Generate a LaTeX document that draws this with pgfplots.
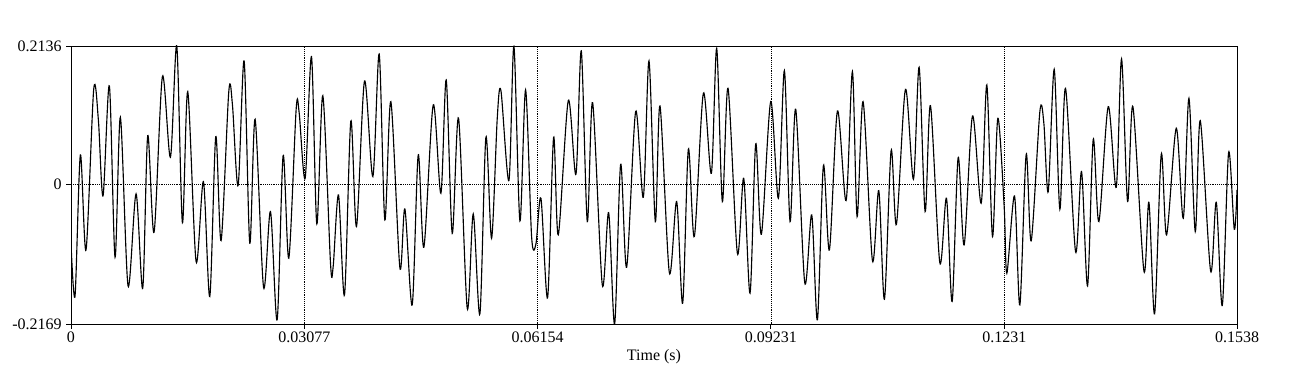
\documentclass[border=0pt]{standalone}
\usepackage{pgfplots}
\pgfplotsset{compat=1.18}
\usepackage{fontspec}
\setmainfont{Liberation Serif}
\pgfplotstableread{
t v
0.000000 -0.0918
0.000532 -0.1734
0.001236 0.0449
0.001983 -0.1022
0.002995 0.1465
0.003611 0.0991
0.004227 -0.0186
0.005063 0.1517
0.005811 -0.1135
0.006514 0.1032
0.007526 -0.1579
0.008582 -0.0155
0.009462 -0.1615
0.010122 0.0748
0.010957 -0.0748
0.012057 0.1662
0.013114 0.0413
0.013950 0.2136
0.014698 -0.0599
0.015401 0.1429
0.016501 -0.1202
0.017469 0.0036
0.018305 -0.1744
0.019097 0.0733
0.019800 -0.0877
0.020812 0.1429
0.021296 0.1223
0.022044 -0.0026
0.022836 0.1904
0.023583 -0.0918
0.024287 0.1001
0.025400 -0.1600
0.026311 -0.0428
0.027191 -0.2105
0.027982 0.0439
0.028730 -0.1151
0.029698 0.1156
0.030094 0.1104
0.030886 0.0088
0.031722 0.1971
0.032425 -0.0619
0.033217 0.1367
0.034229 -0.1228
0.034581 -0.1280
0.035285 -0.0170
0.036077 -0.1718
0.036912 0.0975
0.037660 -0.0660
0.038716 0.1594
0.039816 0.0114
0.040651 0.2012
0.041399 -0.0557
0.042191 0.1275
0.043379 -0.1295
0.044039 -0.0387
0.045006 -0.1873
0.045798 0.0449
0.046546 -0.0980
0.047778 0.1223
0.048790 -0.0144
0.049493 0.1610
0.050285 -0.0764
0.051121 0.1017
0.052265 -0.1925
0.053057 -0.0464
0.053936 -0.2012
0.054728 0.0722
0.055476 -0.0841
0.056224 0.1017
0.056708 0.1445
0.057764 0.0052
0.058423 0.2130
0.059215 -0.0573
0.059963 0.1455
0.060755 -0.0815
0.061327 -0.0929
0.061987 -0.0222
0.062866 -0.1760
0.063658 0.0722
0.064274 -0.0789
0.065594 0.1290
0.066605 0.0150
0.067309 0.2059
0.068101 -0.0583
0.068805 0.1259
0.070081 -0.1563
0.070916 -0.0444
0.071708 -0.2169
0.072500 0.0304
0.073292 -0.1290
0.074480 0.1120
0.075491 -0.0206
0.076239 0.1904
0.077075 -0.0583
0.077691 0.1207
0.078923 -0.1373
0.079890 -0.0273
0.080682 -0.1847
0.081430 0.0537
0.082222 -0.0815
0.083410 0.1404
0.084465 0.0165
0.085169 0.2100
0.085917 -0.0273
0.086665 0.1481
0.087897 -0.1073
0.088732 0.0088
0.089568 -0.1692
0.090316 0.0619
0.091064 -0.0779
0.092296 0.1275
0.093307 -0.0222
0.094099 0.1754
0.094847 -0.0583
0.095595 0.1156
0.096782 -0.1527
0.097706 -0.0480
0.098454 -0.2105
0.099246 0.0284
0.100038 -0.1022
0.101094 0.1130
0.102237 -0.0258
0.103073 0.1739
0.103689 -0.0506
0.104481 0.1275
0.105712 -0.1187
0.106548 -0.0103
0.107296 -0.1785
0.108176 0.0516
0.108880 -0.0624
0.110067 0.1465
0.111123 0.0072
0.111871 0.1806
0.112663 -0.0428
0.113367 0.1213
0.114598 -0.1218
0.115478 -0.0222
0.116226 -0.1821
0.117018 0.0408
0.117810 -0.0944
0.118909 0.1053
0.120053 -0.0299
0.120801 0.1533
0.121549 -0.0815
0.122252 0.1017
0.123088 -0.0351
0.123440 -0.1383
0.124452 -0.0186
0.125156 -0.1873
0.125992 0.0459
0.126652 -0.0882
0.127795 0.1120
0.128323 0.0939
0.128895 -0.0119
0.129687 0.1775
0.130435 -0.0392
0.131182 0.1481
0.132502 -0.1047
0.133294 0.0191
0.134086 -0.1579
0.134834 0.0691
0.135581 -0.0583
0.136813 0.1197
0.137869 -0.0052
0.138573 0.1935
0.139365 -0.0273
0.140068 0.1197
0.141520 -0.1347
0.142180 -0.0284
0.142928 -0.2012
0.143808 0.0459
0.144511 -0.0789
0.145787 0.0862
0.146711 -0.0531
0.147459 0.1326
0.148295 -0.0738
0.148954 0.0980
0.150318 -0.1347
0.151066 -0.0284
0.151858 -0.1883
0.152693 0.0485
0.153441 -0.0702
0.153800 -0.0093
}\wave
\begin{document}
\begin{tikzpicture}
\begin{axis}[
  name=ax,
  scale only axis,
  width=874.5pt, height=208.5pt,
  xmin=0, xmax=0.1538, ymin=-0.2169, ymax=0.2136,
  axis line style={line width=0.6pt},
  xtick={0,0.03077,0.06154,0.09231,0.1231,0.1538},
  xticklabels={\mbox{0},\mbox{0.03077},\mbox{0.06154},\mbox{0.09231},\mbox{0.1231},\mbox{0.1538}},
  ytick={-0.2169,0,0.2136},
  yticklabels={\mbox{-0.2169},\mbox{0},\mbox{0.2136}},
  tick align=outside, xtick pos=bottom, ytick pos=left,
  major tick length=3.5pt,
  tick style={black, line width=0.6pt},
  ticklabel style={font=\fontsize{12}{14}\selectfont},
  xticklabel style={yshift=1pt},
  xlabel={Time (s)},
  xlabel style={font=\fontsize{12}{14}\selectfont, yshift=2pt},
  xmajorgrids, ymajorgrids,
  grid style={black, densely dotted, line width=0.5pt},
  clip=true,
]
\addplot[black, line width=0.85pt, smooth, tension=0.5] table[x=t, y=v] {\wave};
\end{axis}
\path ([xshift=-53.25pt,yshift=-35.25pt]ax.south west) rectangle ([xshift=54pt,yshift=34.5pt]ax.north east);
\end{tikzpicture}
\end{document}
